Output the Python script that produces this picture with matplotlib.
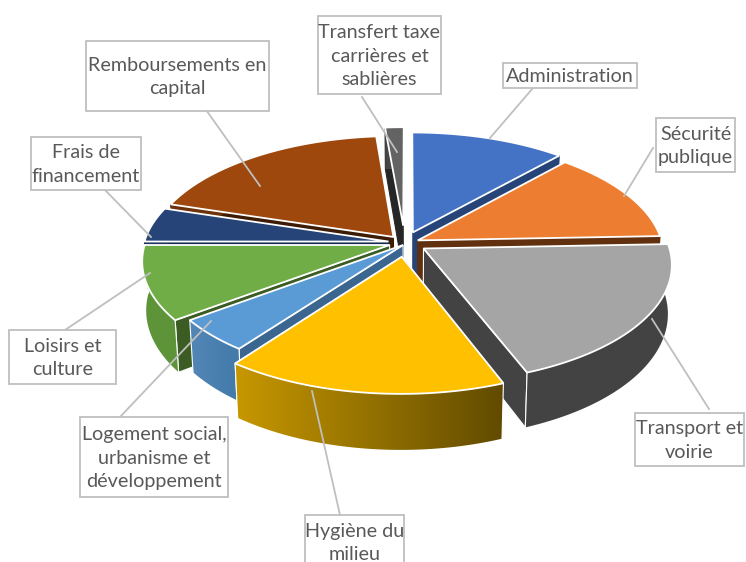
import numpy as np
import matplotlib
matplotlib.use("Agg")
import matplotlib.pyplot as plt
from matplotlib.patches import Polygon, Rectangle

# Data, clockwise from 12 o'clock (share of total, %)
categories = ["Administration", "Sécurité publique", "Transport et voirie", "Hygiène du milieu",
              "Logement social, urbanisme et développement", "Loisirs et culture",
              "Frais de financement", "Remboursements en capital", "Transfert taxe carrières et sablières"]
values = [11.6, 12.8, 19.7, 16.1, 4.6, 10.2, 4.8, 18.8, 1.4]

top_colors = ["#4472C4", "#ED7D31", "#A5A5A5", "#FFC000", "#5B9BD5", "#70AD47", "#264478", "#9E480E", "#636363"]
wall_colors = ["#264478", "#60300F", "#434343", "#7F6000", "#3A6690", "#3B5D24", "#152B50", "#3D1C05", "#262626"]
side_from = ["#264478", "#60300F", "#434343", "#C99900", "#5588B8", "#5E9439", "#1D3560", "#6E320A", "#454545"]
side_to = ["#264478", "#60300F", "#434343", "#5F4900", "#3F78A8", "#5E9439", "#1D3560", "#6E320A", "#454545"]

# Layout: projection of the tilted disc and how far each slice is pulled out
CX, CY, A, B, K, DEPTH = 408.0, 245.0, 245.0, 116.0, 0.13, 48.0
pull = [(0.02, -0.11), (0.04, -0.04), (0.063, 0.03), (-0.025, 0.10), (-0.02, 0.0),
        (-0.075, 0.0), (-0.08, -0.03), (-0.06, -0.07), (-0.02, -0.17)]
order = [8, 7, 6, 5, 4, 0, 1, 2, 3]
front_slices = {2, 3, 4, 5}
right_half = {0, 1, 2, 3}

def project(u, v):
    s = 1.0 / (1.0 - K * v)
    return CX + A * u * s, CY + B * v * s

def project_low(u, v):
    s = 1.0 / (1.0 - K * v)
    return CX + 0.985 * A * u * s, CY + B * v * s + DEPTH * s

labels = [
    ("Administration", (503, 63, 637, 88), (533, 88), (490, 138)),
    ("Sécurité\npublique", (656, 118, 735, 172), (653, 148), (624, 196)),
    ("Transport et\nvoirie", (635, 413, 744, 466), (709, 409), (652, 319)),
    ("Hygiène du\nmilieu", (305, 515, 404, 570), (340, 515), (312, 391)),
    ("Logement social,\nurbanisme et\ndéveloppement", (80, 417, 228, 497), (120, 417), (211, 321)),
    ("Loisirs et\nculture", (9, 330, 116, 384), (65, 330), (150, 273)),
    ("Frais de\nfinancement", (31, 137, 141, 190), (105, 190), (151, 237)),
    ("Remboursements en\ncapital", (86, 41, 269, 111), (204, 107), (260, 186)),
    ("Transfert taxe\ncarrières et\nsablières", (318, 16, 441, 94), (362, 97), (397, 152)),
]

fig = plt.figure(figsize=(7.46, 5.62), dpi=100)
ax = fig.add_axes([0, 0, 1, 1])
ax.axis("off")

vals = np.array(values, dtype=float)
edges = np.concatenate([[0], np.cumsum(vals)]) / vals.sum() * 2 * np.pi
WHITE = "white"

def hex2rgb(h):
    return np.array(matplotlib.colors.to_rgb(h))

z = 1.0
for i in order:
    t1, t2 = edges[i], edges[i + 1]
    ou, ov = pull[i]
    ts = np.linspace(t1, t2, 80)
    us, vs = ou + np.sin(ts), ov - np.cos(ts)
    top_rim = np.array(project(us, vs)).T
    low_rim = np.array(project_low(us, vs)).T
    apex = np.array(project(ou, ov))
    apex_low = np.array(project_low(ou, ov))
    # the one straight wall that faces the viewer
    k = -1 if i in right_half else 0
    wall_edge = WHITE if i in front_slices else wall_colors[i]
    ax.add_patch(Polygon([apex, top_rim[k], low_rim[k], apex_low], closed=True, fc=wall_colors[i],
                         ec=wall_edge, lw=0.8, zorder=z))
    z += 0.01
    # outer side with horizontal shading
    c0, c1 = hex2rgb(side_from[i]), hex2rgb(side_to[i])
    grad = np.linspace(0, 1, 128)[None, :, None] * (c1 - c0)[None, None, :] + c0[None, None, :]
    xmin, xmax = top_rim[:, 0].min(), top_rim[:, 0].max() + 1
    shape = Polygon(np.vstack([top_rim, low_rim[::-1]]), closed=True, fc="none", ec="none", zorder=z)
    ax.add_patch(shape)
    im = ax.imshow(grad, extent=[xmin - 6, xmax + 6, low_rim[:, 1].max() + 6, top_rim[:, 1].min() - 6],
                   aspect="auto", zorder=z, interpolation="bilinear")
    im.set_clip_path(shape)
    z += 0.01
    if i in front_slices:
        for p, q in ((top_rim[0], low_rim[0]), (top_rim[-1], low_rim[-1])):
            ax.plot([p[0], q[0]], [p[1], q[1]], color=WHITE, lw=0.8, zorder=z)
    z += 0.01
    # top face
    ax.add_patch(Polygon(np.vstack([apex, top_rim]), closed=True, fc=top_colors[i], ec=WHITE,
                         lw=1.3, joinstyle="miter", zorder=z))
    z += 0.01

for text, (x0, y0, x1, y1), (lx0, ly0), (lx1, ly1) in labels:
    ax.plot([lx0, lx1], [ly0, ly1], color="#BFBFBF", lw=1.3, zorder=20)
    ax.add_patch(Rectangle((x0, y0), x1 - x0, y1 - y0, fc="white", ec="#BFBFBF", lw=1.3, zorder=21))
    ax.text((x0 + x1) / 2, (y0 + y1) / 2 + 1 if y1 <= 562 else 543, text, ha="center", va="center",
            family="Lato", fontsize=14.2, color="#595959", linespacing=1.45, zorder=22)

ax.set_xlim(0, 746)
ax.set_ylim(562, 0)
fig.savefig("out.png", dpi=100)
